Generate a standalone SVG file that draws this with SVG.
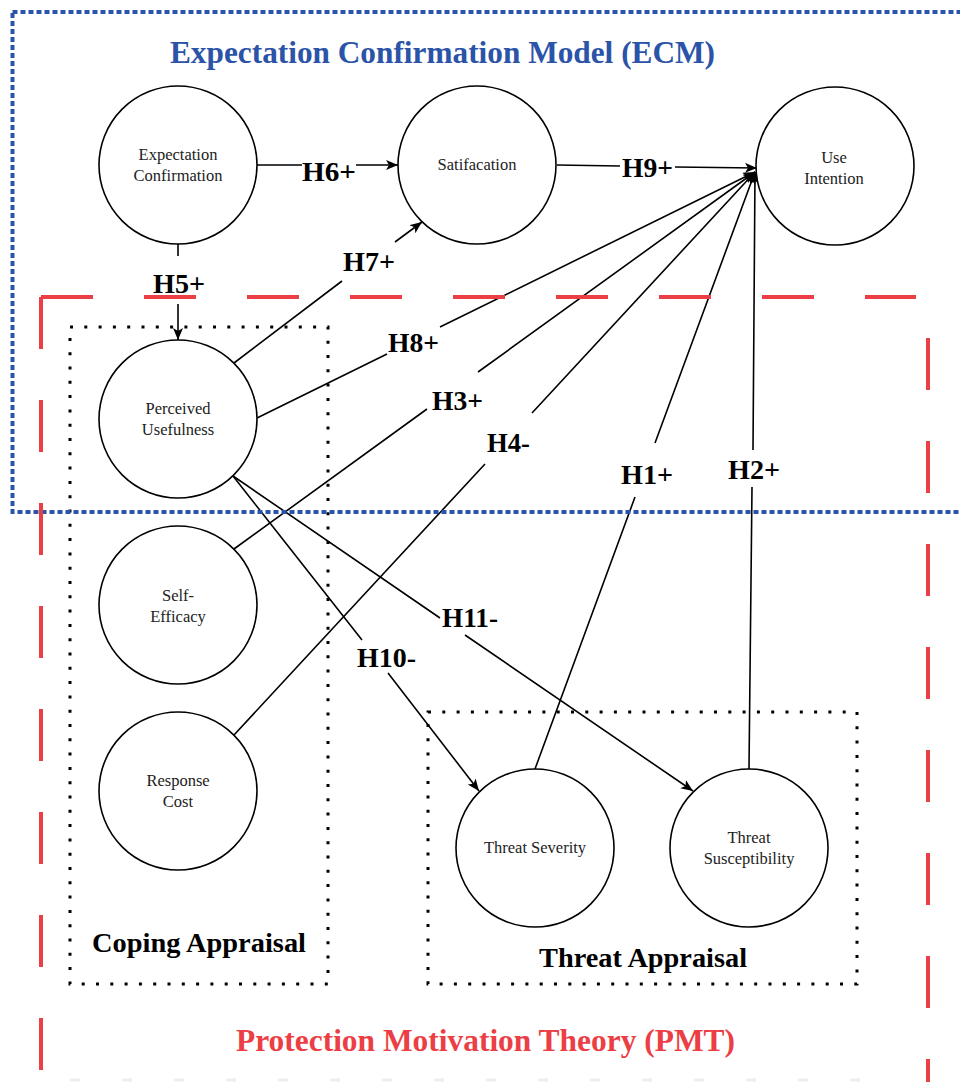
<svg xmlns="http://www.w3.org/2000/svg" width="960" height="1082" viewBox="0 0 960 1082">
<style>
.node circle{fill:#fff;stroke:#000;stroke-width:1.6}
.node text{font-family:"Liberation Serif","Times New Roman",serif;font-size:16.5px;fill:#222;text-anchor:middle}
.conn path{fill:none;stroke:#000;stroke-width:1.6}
.lbl{font-family:"Liberation Serif","Times New Roman",serif;font-size:28px;font-weight:bold;fill:#000}
.title{font-family:"Liberation Serif","Times New Roman",serif;font-size:31px;font-weight:bold;text-anchor:middle}
.grp{font-family:"Liberation Serif","Times New Roman",serif;font-size:28px;font-weight:bold;fill:#000;text-anchor:middle}
.dotbox{fill:none;stroke:#000;stroke-width:3;stroke-dasharray:3 11.3}
.red{fill:none;stroke:#ec3f45;stroke-width:4;stroke-dasharray:52 51}
</style>
<defs>
<marker id="arr" markerUnits="userSpaceOnUse" markerWidth="14" markerHeight="12" refX="12" refY="5" orient="auto">
<path d="M0,0 L12,5 L0,10 L3,5 Z" fill="#000"/>
</marker>
</defs>
<rect width="960" height="1082" fill="#fff"/>

<g id="groupBoxes">
<rect class="dotbox" x="70" y="327" width="258" height="657"/>
<rect class="dotbox" x="428" y="712" width="429" height="272"/>
</g>

<g id="connectors" class="conn">
<path d="M257,165 L302,165 M356,165 L398,165" marker-end="url(#arr)"/>
<path d="M557,165 L620,166 M675,167 L757,168" marker-end="url(#arr)"/>
<path d="M178,244 L178,256 M178,304 L178,340" marker-end="url(#arr)"/>
<path d="M234,363 L342,281 M395,242 L422,222" marker-end="url(#arr)"/>
<path d="M257,418 L387,354 M440,327 L755,172" marker-end="url(#arr)"/>
<path d="M234,549 L427,409 M478,372 L755,172" marker-end="url(#arr)"/>
<path d="M234,735 L485,464 M532,413 L755,172" marker-end="url(#arr)"/>
<path d="M535,769 L635,497 M655,443 L755,172" marker-end="url(#arr)"/>
<path d="M749,769 L752,487 M753,450 L755,172" marker-end="url(#arr)"/>
<path d="M233,476 L362,640 M388,673 L479,791" marker-end="url(#arr)"/>
<path d="M233,476 L440,618 M465,635 L693,791" marker-end="url(#arr)"/>
</g>

<g id="labels">
<text class="lbl" x="302" y="181" textLength="54" lengthAdjust="spacingAndGlyphs">H6+</text>
<text class="lbl" x="622" y="177" textLength="51" lengthAdjust="spacingAndGlyphs">H9+</text>
<text class="lbl" x="153" y="293" textLength="52" lengthAdjust="spacingAndGlyphs">H5+</text>
<text class="lbl" x="343" y="271" textLength="52" lengthAdjust="spacingAndGlyphs">H7+</text>
<text class="lbl" x="388" y="352" textLength="51" lengthAdjust="spacingAndGlyphs">H8+</text>
<text class="lbl" x="432" y="410" textLength="51" lengthAdjust="spacingAndGlyphs">H3+</text>
<text class="lbl" x="487" y="452" textLength="43" lengthAdjust="spacingAndGlyphs">H4-</text>
<text class="lbl" x="621" y="484" textLength="52" lengthAdjust="spacingAndGlyphs">H1+</text>
<text class="lbl" x="728" y="479" textLength="52" lengthAdjust="spacingAndGlyphs">H2+</text>
<text class="lbl" x="357" y="667" textLength="59" lengthAdjust="spacingAndGlyphs">H10-</text>
<text class="lbl" x="442" y="627" textLength="56" lengthAdjust="spacingAndGlyphs">H11-</text>
</g>

<g id="n-expectation" class="node">
<circle cx="178" cy="165" r="79"/>
<text x="178" y="160">Expectation</text>
<text x="178" y="181">Confirmation</text>
</g>
<g id="n-satisfaction" class="node">
<circle cx="477" cy="165" r="79"/>
<text x="477" y="170">Satifacation</text>
</g>
<g id="n-use-intention" class="node">
<circle cx="835" cy="166" r="79"/>
<text x="834" y="163">Use</text>
<text x="834" y="184">Intention</text>
</g>
<g id="n-perceived-usefulness" class="node">
<circle cx="178" cy="419" r="79"/>
<text x="178" y="414">Perceived</text>
<text x="178" y="435">Usefulness</text>
</g>
<g id="n-self-efficacy" class="node">
<circle cx="178" cy="605" r="79"/>
<text x="178" y="601">Self-</text>
<text x="178" y="622">Efficacy</text>
</g>
<g id="n-response-cost" class="node">
<circle cx="178" cy="791" r="79"/>
<text x="178" y="786">Response</text>
<text x="178" y="807">Cost</text>
</g>
<g id="n-threat-severity" class="node">
<circle cx="535" cy="848" r="79"/>
<text x="535" y="853">Threat Severity</text>
</g>
<g id="n-threat-susceptibility" class="node">
<circle cx="749" cy="848" r="79"/>
<text x="749" y="843">Threat</text>
<text x="749" y="864">Susceptibility</text>
</g>

<g id="groupTitles">
<text class="grp" x="199" y="952" textLength="214" lengthAdjust="spacingAndGlyphs">Coping Appraisal</text>
<text class="grp" x="643" y="967" textLength="208" lengthAdjust="spacingAndGlyphs">Threat Appraisal</text>
</g>

<g id="ecm-frame">
<rect x="12.5" y="12" width="955" height="500" fill="none" stroke="#2b54a8" stroke-width="4" stroke-dasharray="5 3"/>
<text class="title" x="442.5" y="63" fill="#2b54a8" textLength="545" lengthAdjust="spacingAndGlyphs">Expectation Confirmation Model (ECM)</text>
</g>

<g id="pmt-frame">
<path class="red" d="M41,297 H916"/>
<path class="red" d="M41,297 V1090"/>
<path class="red" d="M928,338 V1090"/>
<path d="M70,1080 H900" fill="none" stroke="#eeeeee" stroke-width="3" stroke-dasharray="10 42"/>
<text class="title" x="485.5" y="1051" fill="#ec3f45" textLength="499" lengthAdjust="spacingAndGlyphs">Protection Motivation Theory (PMT)</text>
</g>
</svg>
